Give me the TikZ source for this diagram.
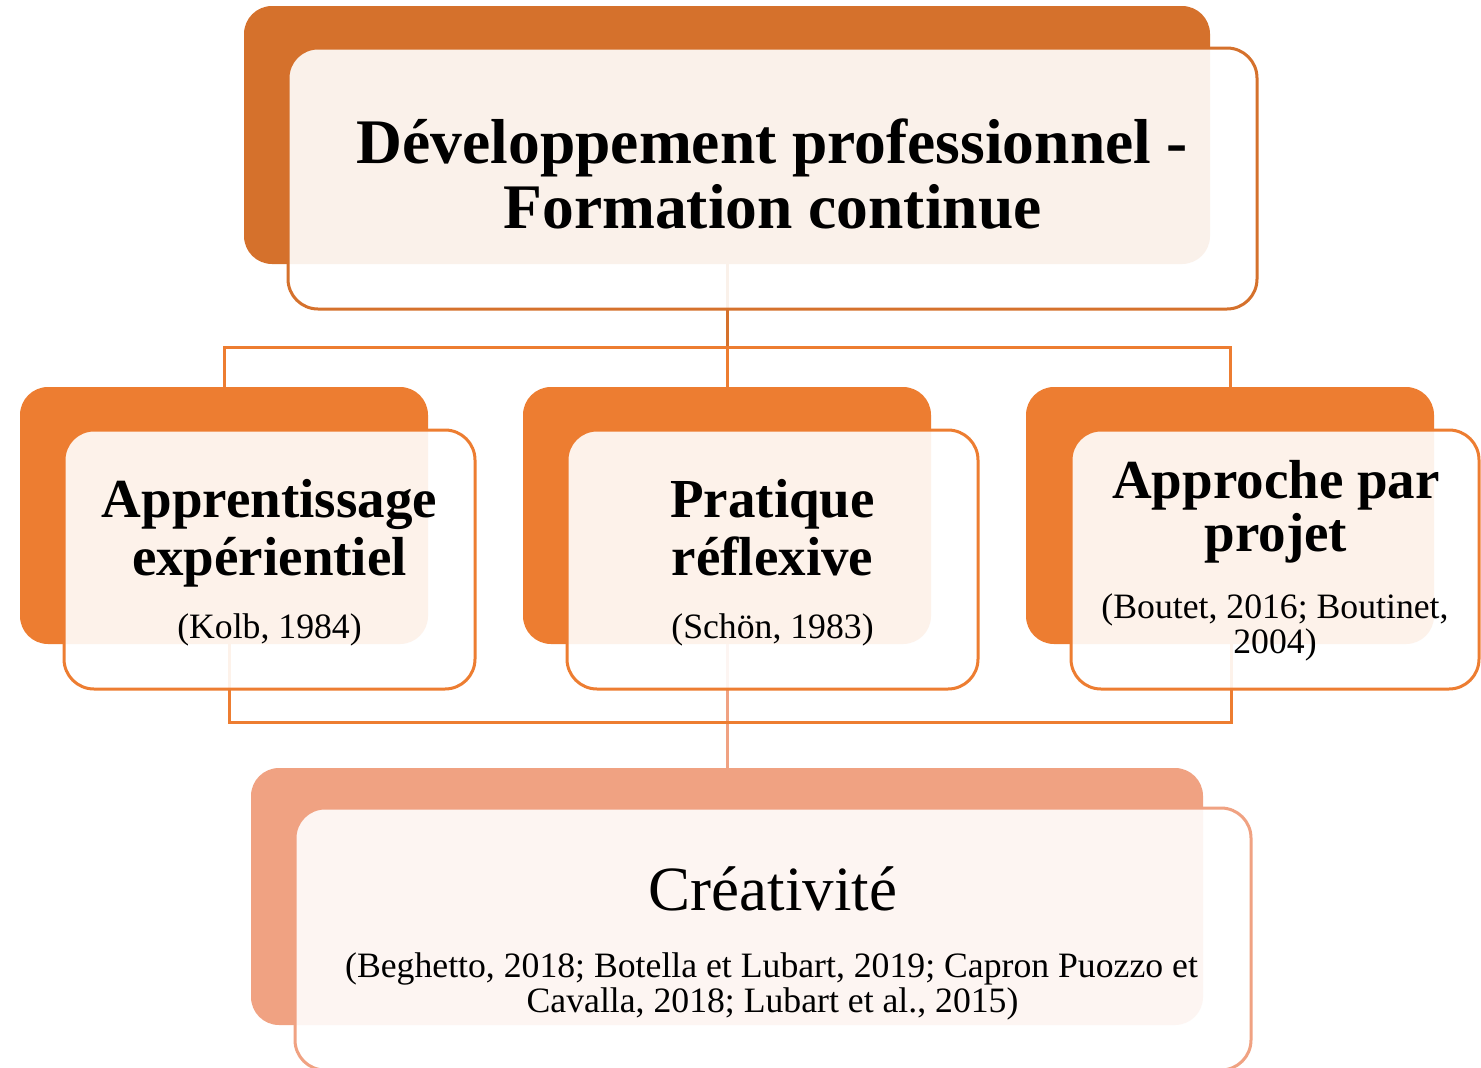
\documentclass[tikz,border=0pt]{standalone}
\usepackage{fontspec}
\setmainfont{Liberation Serif}
\usetikzlibrary{backgrounds}
\definecolor{topc}{HTML}{D5712C}
\definecolor{midc}{HTML}{ED7D31}
\definecolor{botc}{HTML}{F0A282}
\begin{document}
\begin{tikzpicture}[x=1pt,y=-1pt,
 backbox/.style={rounded corners=28pt, inner sep=0pt, draw=none},
 frontbox/.style={rounded corners=30pt, inner sep=0pt, line width=3pt, fill=white, fill opacity=0.9},
 conn/.style={line width=3pt},
 ttl/.style={inner sep=0pt, anchor=base, font=\fontsize{63.5}{65}\selectfont\bfseries},
 sub/.style={inner sep=0pt, anchor=base, font=\fontsize{55}{58}\selectfont\bfseries},
 cite/.style={inner sep=0pt, anchor=base, font=\fontsize{35.7}{35}\selectfont},
 big/.style={inner sep=0pt, anchor=base, font=\fontsize{63}{63}\selectfont},
]
\useasboundingbox (0,0) rectangle (1481,1068);
% back boxes
\node[backbox, fill=topc, minimum width=966pt, minimum height=258pt] (tB) at (727,135) {};
\node[backbox, fill=midc, minimum width=408pt, minimum height=257pt] (lB) at (224,515.5) {};
\node[backbox, fill=midc, minimum width=408pt, minimum height=257pt] (mB) at (727,515.5) {};
\node[backbox, fill=midc, minimum width=408pt, minimum height=257pt] (rB) at (1230,515.5) {};
\node[backbox, fill=botc, minimum width=952pt, minimum height=257pt] (bB) at (727,896.5) {};
% front boxes
\node[frontbox, draw=topc, minimum width=969pt, minimum height=261pt] (tF) at (772.5,178.5) {};
\node[frontbox, draw=midc, minimum width=411pt, minimum height=259pt] (lF) at (269.5,559.5) {};
\node[frontbox, draw=midc, minimum width=411pt, minimum height=259pt] (mF) at (772.5,559.5) {};
\node[frontbox, draw=midc, minimum width=408pt, minimum height=259pt] (rF) at (1275,559.5) {};
\node[frontbox, draw=botc, minimum width=956pt, minimum height=262pt] (bF) at (773,939) {};
% connectors
\begin{pgfonlayer}{background}
\fill[white] (0,0) rectangle (1481,1068);
\coordinate (jT) at (727,347);
\coordinate (jB) at (727,722);
\draw[conn, topc] (tB.south) -- (jT);
\draw[conn, midc] (lB.north) |- (jT);
\draw[conn, midc] (rB.north) |- (jT);
\draw[conn, midc] (jT) -- (mB.north);
\draw[conn, botc] (mB.south) -- (bB.north);
\draw[conn, midc] ([xshift=5pt]lB.south) |- (jB);
\draw[conn, midc] ([xshift=1pt]rB.south) |- (jB);
\end{pgfonlayer}
% texts
\node[ttl] (t1) at (772.5,163) {Développement professionnel -};
\node[ttl] (t2) at (772.5,228) {Formation continue};
\node[sub] (a1) at (269.5,517) {Apprentissage};
\node[sub] (a2) at (269.5,575) {expérientiel};
\node[cite] (a3) at (269.5,638) {(Kolb, 1984)};
\node[sub] (p1) at (772.5,517) {Pratique};
\node[sub] (p2) at (772.5,575) {réflexive};
\node[cite] (p3) at (772.5,638) {(Schön, 1983)};
\node[sub] (r1) at (1276,498) {Approche par};
\node[sub] (r2) at (1276,551) {projet};
\node[cite] (r3) at (1275,618) {(Boutet, 2016; Boutinet,};
\node[cite] (r4) at (1275,653) {2004)};
\node[big] (c1) at (773,910) {Créativité};
\node[cite] (c2) at (771.5,977) {(Beghetto, 2018; Botella et Lubart, 2019; Capron Puozzo et};
\node[cite] (c3) at (772.5,1012) {Cavalla, 2018; Lubart et al., 2015)};
\end{tikzpicture}
\end{document}
